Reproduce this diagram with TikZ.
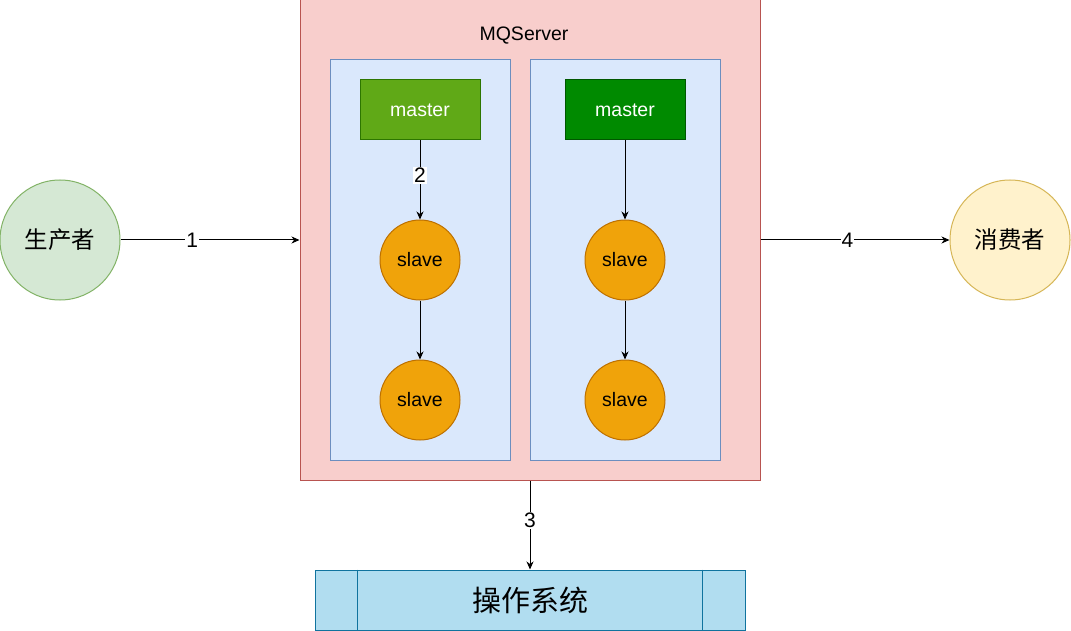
\documentclass[tikz,border=0pt]{standalone}
\usepackage{fontspec}
\setmainfont{Liberation Sans}
\newfontfamily\cjk{Noto Sans CJK SC}
\usetikzlibrary{arrows.meta}
\definecolor{pinkF}{HTML}{F8CECC}\definecolor{pinkD}{HTML}{B85450}
\definecolor{blueF}{HTML}{DAE8FC}\definecolor{blueD}{HTML}{6C8EBF}
\definecolor{mOneF}{HTML}{60A917}\definecolor{mOneD}{HTML}{2D7600}
\definecolor{mTwoF}{HTML}{008A00}\definecolor{mTwoD}{HTML}{005700}
\definecolor{slF}{HTML}{F0A30A}\definecolor{slD}{HTML}{BD7000}
\definecolor{osF}{HTML}{B1DDF0}\definecolor{osD}{HTML}{10739E}
\definecolor{prF}{HTML}{D5E8D4}\definecolor{prD}{HTML}{82B366}
\definecolor{coF}{HTML}{FFF2CC}\definecolor{coD}{HTML}{D6B656}
\tikzset{
  base/.style={line width=1pt, inner sep=0pt, font=\fontsize{19.5}{22}\selectfont},
  actor/.style={base, circle, minimum size=120pt, font=\cjk\fontsize{23.5}{27}\selectfont},
  grp/.style={base, rectangle, draw=blueD, fill=blueF, minimum height=400pt},
  masterbox/.style={base, rectangle, minimum width=120pt, minimum height=60pt, text=white},
  slavenode/.style={base, circle, minimum size=80pt, draw=slD, fill=slF},
  arr/.style={line width=1pt, -{Stealth[length=8pt,width=7pt,inset=2.5pt]}},
  lbl/.style={fill=white, inner sep=1pt, font=\fontsize{21}{24}\selectfont},
}
\begin{document}
\begin{tikzpicture}[x=1pt,y=-1pt]
\useasboundingbox (0,0) rectangle (1071,631);
\fill[white] (0,0) rectangle (1071,631);
\node[base, rectangle, draw=pinkD, fill=pinkF, minimum width=460pt, minimum height=480pt] (mq) at (530,240) {};
\node[base] (mqlabel) at (524,36) {MQServer};
\node[grp, minimum width=180pt] (g1) at (420,260) {};
\node[grp, minimum width=190pt] (g2) at (625,260) {};
\node[masterbox, draw=mOneD, fill=mOneF] (m1) at (420,110) {master};
\node[masterbox, draw=mTwoD, fill=mTwoF] (m2) at (625,110) {master};
\node[slavenode] (s1a) at (420,260) {slave};
\node[slavenode] (s1b) at (420,400) {slave};
\node[slavenode] (s2a) at (625,260) {slave};
\node[slavenode] (s2b) at (625,400) {slave};
\node[actor, draw=prD, fill=prF] (prod) at (60,240) {生产者};
\node[actor, draw=coD, fill=coF] (cons) at (1010,240) {消费者};
\node[base, rectangle, draw=osD, fill=osF, minimum width=430pt, minimum height=60pt, font=\cjk\fontsize{29}{33}\selectfont] (os) at (530,600) {操作系统};
\draw[line width=1pt, osD] (os.north west) ++(43,0) -- ++(0,60);
\draw[line width=1pt, osD] (os.north east) ++(-43,0) -- ++(0,60);
\draw[arr] (m1) -- node[lbl, pos=0.44] {2} (s1a);
\draw[arr] (s1a) -- (s1b);
\draw[arr] (m2) -- (s2a);
\draw[arr] (s2a) -- (s2b);
\draw[arr] (prod) -- node[lbl, pos=0.4] {1} (mq.west);
\draw[arr] (mq.east) -- node[lbl, pos=0.46] {4} (cons);
\draw[arr] (mq.south) -- node[lbl, pos=0.45] {3} (os.north);
\end{tikzpicture}
\end{document}
